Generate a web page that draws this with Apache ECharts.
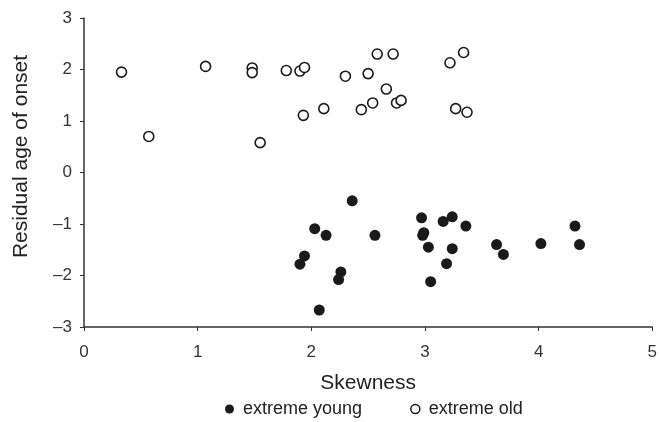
<!DOCTYPE html>
<html><head><meta charset="utf-8">
<script src="https://cdn.jsdelivr.net/npm/echarts@6/dist/echarts.min.js"></script>
<style>html,body{margin:0;padding:0;background:#fff}#c{width:660px;height:422px}</style>
</head><body><div id="c"></div>
<script>
const youngX = [2.36, 2.03, 2.13, 2.56, 1.94, 1.90, 2.26, 2.24, 2.07, 2.97, 2.99, 2.98, 3.03, 3.05, 3.16, 3.24, 3.36, 3.24, 3.19, 3.63, 3.69, 4.02, 4.32, 4.36];
const youngY = [-0.55, -1.09, -1.22, -1.22, -1.62, -1.78, -1.93, -2.08, -2.67, -0.88, -1.17, -1.22, -1.45, -2.12, -0.95, -0.86, -1.04, -1.48, -1.77, -1.40, -1.59, -1.38, -1.04, -1.40];
const oldX = [0.33, 0.57, 1.07, 1.48, 1.48, 1.55, 1.78, 1.90, 1.94, 1.93, 2.11, 2.30, 2.44, 2.50, 2.54, 2.58, 2.72, 2.66, 2.75, 2.79, 3.22, 3.34, 3.27, 3.37];
const oldY = [1.95, 0.70, 2.06, 2.03, 1.94, 0.58, 1.98, 1.97, 2.04, 1.11, 1.24, 1.87, 1.22, 1.92, 1.35, 2.30, 2.30, 1.62, 1.35, 1.40, 2.13, 2.33, 1.24, 1.17];
const seriesNames = ['extreme young', 'extreme old'];
const xTitle = 'Skewness';
const yTitle = 'Residual age of onset';

const pair = (xs, ys) => xs.map((x, i) => [x, ys[i]]);
const fmt = v => String(v).replace('-', '\u2013');
const font = 'Liberation Sans, Arial, sans-serif';

const chart = echarts.init(document.getElementById('c'), null, {renderer: 'canvas'});
chart.setOption({
  animation: false,
  backgroundColor: '#fff',
  grid: {left: 84, right: 5, top: 18, bottom: 95, containLabel: false},
  legend: {
    bottom: -1, left: 220, itemGap: 48, itemWidth: 9, itemHeight: 9,
    textStyle: {fontFamily: font, fontSize: 18, color: '#222', padding: [0, 0, 0, 4]},
    data: [
      {name: seriesNames[0], icon: 'circle'},
      {name: seriesNames[1], icon: 'circle', itemStyle: {color: '#fff', borderColor: '#1a1a1a', borderWidth: 1.5}}
    ]
  },
  xAxis: {
    type: 'value', min: 0, max: 5, interval: 1,
    name: xTitle, nameLocation: 'middle', nameGap: 46,
    nameTextStyle: {fontFamily: font, fontSize: 21, color: '#222'},
    axisLine: {onZero: false, lineStyle: {color: '#333', width: 1.5}},
    axisTick: {show: true, inside: false, length: 4, lineStyle: {color: '#333'}},
    axisLabel: {fontFamily: font, fontSize: 17, color: '#333', margin: 17},
    splitLine: {show: false}
  },
  yAxis: {
    type: 'value', min: -3, max: 3, interval: 1,
    name: yTitle, nameLocation: 'middle', nameGap: 52, nameRotate: 90,
    nameTextStyle: {fontFamily: font, fontSize: 21, color: '#222', padding: [0, 0, 0, 32]},
    axisLine: {show: true, onZero: false, lineStyle: {color: '#333', width: 1.5}},
    axisTick: {show: true, length: 4, lineStyle: {color: '#333'}},
    axisLabel: {fontFamily: font, fontSize: 17, color: '#333', margin: 12, formatter: fmt},
    splitLine: {show: false}
  },
  series: [
    {
      name: seriesNames[0], type: 'scatter', data: pair(youngX, youngY),
      symbol: 'circle', symbolSize: 11,
      itemStyle: {color: '#1a1a1a', opacity: 1}
    },
    {
      name: seriesNames[1], type: 'scatter', data: pair(oldX, oldY),
      symbol: 'circle', symbolSize: 10,
      itemStyle: {color: '#fff', borderColor: '#1a1a1a', borderWidth: 1.6, opacity: 1}
    }
  ]
});
</script></body></html>
